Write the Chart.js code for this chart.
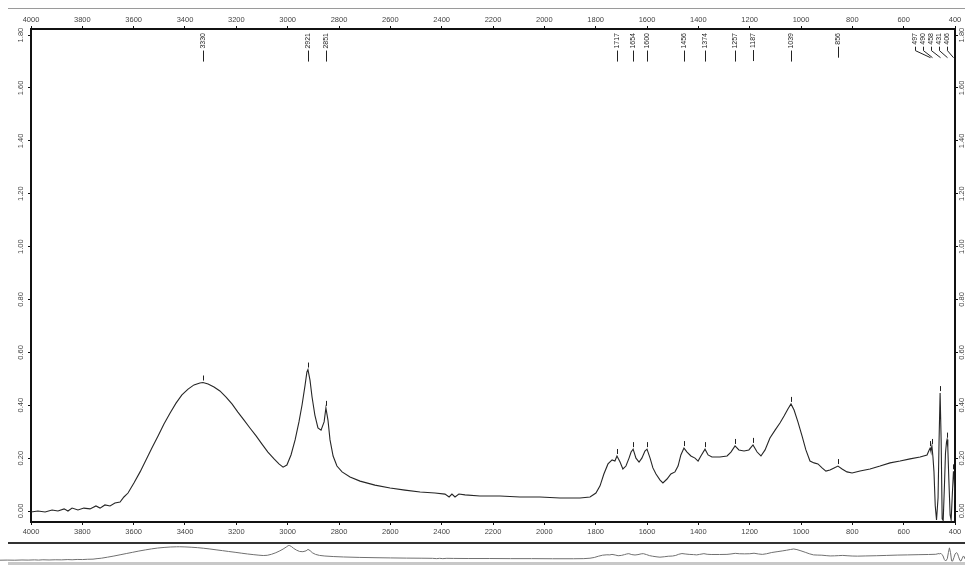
<!DOCTYPE html>
<html>
<head>
<meta charset="utf-8">
<script src="https://cdn.jsdelivr.net/npm/chart.js@4.4.1/dist/chart.umd.min.js"></script>
<style>
  html, body { margin: 0; padding: 0; background: #fff; }
  #wrap { position: relative; width: 965px; height: 565px; overflow: hidden; }
  #main { position: absolute; left: 0; top: 0; }
  #overview { position: absolute; left: 0; top: 540px; }
  .rule { position: absolute; }
</style>
</head>
<body>
<div id="wrap">
  <div class="rule" style="left:8px;top:8px;width:957px;height:1px;background:#9a9a9a"></div>
  <canvas id="main" width="965" height="540"></canvas>
  <div class="rule" style="left:8px;top:542px;width:957px;height:2px;background:#333"></div>
  <canvas id="overview" width="965" height="25"></canvas>
  <div class="rule" style="left:8px;top:562px;width:957px;height:3px;background:#c8c8c8"></div>
</div>
<script>
/* global Chart */
const wavenumbers = [
  4000, 3973, 3945, 3918, 3895, 3871, 3856, 3840, 3817, 3794,
  3770, 3747, 3731, 3712, 3692, 3673, 3653, 3638, 3622, 3599,
  3575, 3552, 3529, 3505, 3482, 3458, 3435, 3412, 3388, 3365,
  3342, 3330, 3310, 3287, 3264, 3240, 3217, 3194, 3170, 3147,
  3123, 3100, 3077, 3053, 3034, 3018, 3003, 2987, 2971, 2956,
  2944, 2932, 2925, 2921, 2913, 2905, 2894, 2882, 2870, 2858,
  2851, 2843, 2835, 2823, 2808, 2788, 2757, 2718, 2660, 2601,
  2543, 2484, 2426, 2387, 2371, 2360, 2348, 2333, 2309, 2251,
  2173, 2095, 2017, 1939, 1861, 1822, 1799, 1783, 1768, 1752,
  1736, 1725, 1717, 1705, 1694, 1682, 1670, 1662, 1654, 1643,
  1631, 1620, 1608, 1600, 1588, 1577, 1565, 1549, 1538, 1522,
  1507, 1491, 1479, 1468, 1456, 1444, 1429, 1413, 1401, 1390,
  1374, 1362, 1347, 1316, 1288, 1273, 1257, 1242, 1222, 1203,
  1187, 1171, 1156, 1140, 1121, 1101, 1082, 1066, 1051, 1039,
  1027, 1012, 996, 981, 965, 949, 934, 918, 903, 887,
  871, 856, 840, 821, 801, 770, 731, 692, 653, 614,
  575, 536, 509, 501, 497, 494, 490, 486, 482, 477,
  472, 466, 462, 458, 454, 450, 446, 441, 437, 433,
  431, 428, 424, 419, 415, 411, 406, 403, 400,
];

const absorbance = [
  -0.004, 0.000, -0.004, 0.004, 0.000, 0.008, 0.000, 0.011, 0.004, 0.011,
  0.008, 0.019, 0.011, 0.023, 0.019, 0.030, 0.034, 0.053, 0.068, 0.106,
  0.148, 0.193, 0.238, 0.284, 0.329, 0.371, 0.408, 0.439, 0.461, 0.477,
  0.484, 0.486, 0.480, 0.469, 0.454, 0.431, 0.405, 0.374, 0.344, 0.314,
  0.284, 0.253, 0.223, 0.197, 0.178, 0.166, 0.174, 0.212, 0.269, 0.337,
  0.401, 0.477, 0.526, 0.535, 0.495, 0.431, 0.363, 0.314, 0.306, 0.337,
  0.390, 0.344, 0.269, 0.208, 0.170, 0.148, 0.129, 0.113, 0.098, 0.087,
  0.079, 0.072, 0.068, 0.064, 0.053, 0.064, 0.053, 0.064, 0.061, 0.057,
  0.057, 0.053, 0.053, 0.049, 0.049, 0.053, 0.068, 0.095, 0.140, 0.178,
  0.193, 0.189, 0.208, 0.185, 0.159, 0.170, 0.200, 0.223, 0.234, 0.200,
  0.185, 0.200, 0.227, 0.234, 0.200, 0.163, 0.140, 0.117, 0.106, 0.121,
  0.140, 0.148, 0.170, 0.212, 0.238, 0.223, 0.208, 0.200, 0.189, 0.208,
  0.234, 0.212, 0.204, 0.204, 0.208, 0.223, 0.246, 0.231, 0.227, 0.231,
  0.250, 0.223, 0.208, 0.231, 0.276, 0.306, 0.333, 0.359, 0.386, 0.405,
  0.382, 0.337, 0.284, 0.231, 0.189, 0.182, 0.178, 0.163, 0.151, 0.155,
  0.163, 0.170, 0.159, 0.148, 0.144, 0.151, 0.159, 0.170, 0.182, 0.189,
  0.197, 0.204, 0.212, 0.230, 0.238, 0.226, 0.246, 0.205, 0.150, 0.020,
  -0.034, 0.050, 0.270, 0.446, 0.270, -0.030, -0.036, 0.100, 0.220, 0.262,
  0.270, 0.240, 0.120, -0.015, -0.034, 0.050, 0.150, 0.120, 0.040,
];

const peakWavenumbers = [3330, 2921, 2851, 1717, 1654, 1600, 1456, 1374, 1257, 1187, 1039, 856, 497, 490, 458, 431, 406];

const xTickValues = [4000, 3800, 3600, 3400, 3200, 3000, 2800, 2600, 2400, 2200, 2000, 1800, 1600, 1400, 1200, 1000, 800, 600, 400];
const yTickValues = [0, 0.2, 0.4, 0.6, 0.8, 1.0, 1.2, 1.4, 1.6, 1.8];

const FONT = '"Liberation Sans", Arial, sans-serif';
const points = wavenumbers.map((w, i) => ({ x: w, y: absorbance[i] }));

function nearestIndex(w) {
  let best = 0;
  wavenumbers.forEach((v, i) => {
    if (Math.abs(v - w) < Math.abs(wavenumbers[best] - w)) best = i;
  });
  return best;
}

function xAxis(position, height) {
  return {
    type: 'linear',
    axis: 'x',
    position,
    reverse: true,
    min: 400,
    max: 4000,
    afterBuildTicks: (s) => { s.ticks = xTickValues.map((v) => ({ value: v })); },
    afterFit: (s) => { s.height = height; },
    ticks: {
      autoSkip: false,
      maxRotation: 0,
      padding: 2,
      color: '#444',
      font: { family: FONT, size: 7.5 },
      callback: (v) => String(v),
    },
    grid: { drawOnChartArea: false, tickLength: 3, color: '#111' },
    border: { display: true, color: '#111', width: 2 },
  };
}

function yAxis(position, width, pad) {
  return {
    type: 'linear',
    axis: 'y',
    position,
    min: -0.0416,
    max: 1.823,
    afterBuildTicks: (s) => { s.ticks = yTickValues.map((v) => ({ value: v })); },
    afterFit: (s) => { s.width = width; },
    ticks: {
      minRotation: 90,
      maxRotation: 90,
      crossAlign: 'center',
      padding: pad,
      color: '#444',
      font: { family: FONT, size: 7.5 },
      callback: (v) => Number(v).toFixed(2),
    },
    grid: { drawOnChartArea: false, tickLength: 3, color: '#111' },
    border: { display: true, color: '#111', width: 2 },
  };
}

const peakPlugin = {
  id: 'peakMarks',
  afterDatasetsDraw(chart) {
    const { ctx, chartArea, scales } = chart;
    const px = peakWavenumbers.map((w) => scales.x.getPixelForValue(w));
    const lx = px.slice();
    for (let i = lx.length - 1; i >= 0; i--) {
      const limit = i === lx.length - 1 ? chartArea.right - 8 : lx[i + 1] - 8;
      lx[i] = Math.min(px[i], limit);
    }

    ctx.save();
    ctx.font = `7px ${FONT}`;
    ctx.fillStyle = '#222';
    ctx.strokeStyle = '#222';
    ctx.lineWidth = 1;
    peakWavenumbers.forEach((w, i) => {
      const top = chartArea.top + 4;
      const label = String(w);
      const tw = ctx.measureText(label).width;
      ctx.save();
      ctx.translate(lx[i], top);
      ctx.rotate(-Math.PI / 2);
      ctx.textAlign = 'right';
      ctx.textBaseline = 'middle';
      ctx.fillText(label, 0, 0);
      ctx.restore();

      const y0 = top + tw + 2;
      ctx.beginPath();
      ctx.moveTo(Math.round(lx[i]) + 0.5, y0);
      if (Math.abs(lx[i] - px[i]) > 0.5) {
        ctx.lineTo(Math.round(lx[i]) + 0.5, y0 + 4);
      }
      ctx.lineTo(Math.round(px[i]) + 0.5, y0 + 11);
      ctx.stroke();

      // little tick just above the peak on the curve
      const yp = scales.y.getPixelForValue(absorbance[nearestIndex(w)]);
      ctx.beginPath();
      ctx.moveTo(Math.round(px[i]) + 0.5, yp - 2);
      ctx.lineTo(Math.round(px[i]) + 0.5, yp - 7);
      ctx.stroke();
    });
    ctx.restore();
  },
};

new Chart(document.getElementById('main'), {
  type: 'line',
  data: {
    datasets: [{
      data: points,
      borderColor: '#262626',
      borderWidth: 1.1,
      pointRadius: 0,
      tension: 0,
    }],
  },
  options: {
    responsive: false,
    animation: false,
    events: [],
    layout: { padding: { top: 9, left: 0, right: 0, bottom: 0 } },
    plugins: { legend: { display: false }, tooltip: { enabled: false } },
    scales: {
      x: xAxis('bottom', 18),
      xTop: xAxis('top', 20),
      y: yAxis('left', 31, 0),
      yRight: yAxis('right', 10, -3),
    },
  },
  plugins: [peakPlugin],
});

new Chart(document.getElementById('overview'), {
  type: 'line',
  data: {
    datasets: [{
      data: points,
      borderColor: '#707070',
      borderWidth: 1,
      pointRadius: 0,
      tension: 0,
    }],
  },
  options: {
    responsive: false,
    animation: false,
    events: [],
    layout: { padding: { top: 5, left: 0, right: 0, bottom: 3 } },
    plugins: { legend: { display: false }, tooltip: { enabled: false } },
    scales: {
      x: { type: 'linear', reverse: true, min: 400, max: 4000, display: false },
      y: { type: 'linear', min: -0.07, max: 0.55, display: false },
    },
  },
});
</script>
</body>
</html>
